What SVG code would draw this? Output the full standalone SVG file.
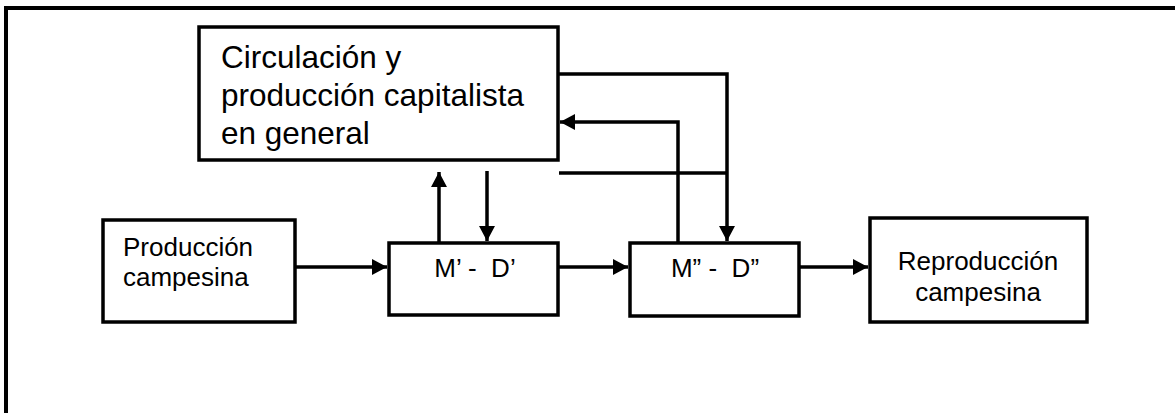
<svg xmlns="http://www.w3.org/2000/svg" width="1175" height="413" viewBox="0 0 1175 413">
  <style>
    .box { fill: #ffffff; stroke: #000000; stroke-width: 3.5; }
    .frame { fill: none; stroke: #000000; stroke-width: 4; }
    .conn { fill: none; stroke: #000000; stroke-width: 3.5; }
    .big { font-family: "Liberation Sans", Arial, sans-serif; font-size: 31.5px; fill: #000000; }
    .lbl { font-family: "Liberation Sans", Arial, sans-serif; font-size: 26px; fill: #000000; white-space: pre; }
  </style>
  <defs>
    <marker id="arrow" markerUnits="userSpaceOnUse" markerWidth="16" markerHeight="16" refX="15" refY="8" orient="auto" viewBox="0 0 16 16">
      <path d="M0,0 L15,8 L0,16 z" fill="#000000"/>
    </marker>
  </defs>
  <rect width="1175" height="413" fill="#ffffff"/>
  <rect class="frame" x="6" y="8" width="1200" height="450"/>

  <g id="node-circulacion">
    <rect class="box" x="199" y="27" width="359" height="133"/>
    <text class="big" x="221" y="68">Circulación y</text>
    <text class="big" x="221" y="106">producción capitalista</text>
    <text class="big" x="221" y="144">en general</text>
  </g>

  <g id="node-produccion">
    <rect class="box" x="103" y="220" width="192" height="102"/>
    <text class="lbl" x="123" y="256">Producción</text>
    <text class="lbl" x="123" y="286">campesina</text>
  </g>

  <g id="node-md1">
    <rect class="box" x="389" y="243" width="169" height="72"/>
    <text class="lbl" x="475" y="277" text-anchor="middle">M’ -  D’</text>
  </g>

  <g id="node-md2">
    <rect class="box" x="630" y="243" width="169" height="73"/>
    <text class="lbl" x="715" y="277" text-anchor="middle">M” -  D”</text>
  </g>

  <g id="node-reproduccion">
    <rect class="box" x="870" y="218" width="217" height="104"/>
    <text class="lbl" x="978" y="270" text-anchor="middle">Reproducción</text>
    <text class="lbl" x="978" y="301" text-anchor="middle">campesina</text>
  </g>

  <g id="connectors">
    <line class="conn" x1="295" y1="267" x2="387" y2="267" marker-end="url(#arrow)"/>
    <line class="conn" x1="558" y1="267" x2="628" y2="267" marker-end="url(#arrow)"/>
    <line class="conn" x1="799" y1="267" x2="868" y2="267" marker-end="url(#arrow)"/>
    <line class="conn" x1="439" y1="243" x2="439" y2="172" marker-end="url(#arrow)"/>
    <line class="conn" x1="487" y1="171" x2="487" y2="241" marker-end="url(#arrow)"/>
    <path class="conn" d="M558,74 H727 V241" marker-end="url(#arrow)"/>
    <path class="conn" d="M678,243 V122 H560" marker-end="url(#arrow)"/>
    <line class="conn" x1="559" y1="173" x2="727" y2="173"/>
  </g>
</svg>
